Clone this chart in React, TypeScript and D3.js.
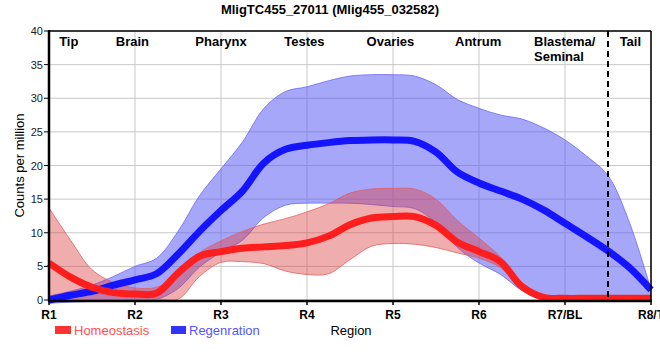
import React from "react";
import * as d3 from "d3";

const title = "MligTC455_27011 (Mlig455_032582)";
const regionTicks = ["R1", "R2", "R3", "R4", "R5", "R6", "R7/BL", "R8/T"];
const yTicks = [0, 5, 10, 15, 20, 25, 30, 35, 40];

// sample positions in region units (0 = R1 ... 7 = R8/T)
const xs = [0, 0.25, 0.5, 0.75, 1, 1.25, 1.5, 1.75, 2, 2.25, 2.5, 2.75, 3, 3.25, 3.5, 3.75, 4, 4.25, 4.5, 4.75, 5, 5.25, 5.5, 5.75, 6, 6.25, 6.5, 6.75, 7];

const homeoMean = [5.5, 3.4, 1.9, 1.1, 0.9, 1.0, 4.0, 6.5, 7.2, 7.7, 7.9, 8.1, 8.5, 9.5, 11.2, 12.2, 12.4, 12.4, 11.1, 8.6, 7.2, 5.7, 2.0, 0.4, 0.25, 0.25, 0.25, 0.25, 0.25];
const homeoUpper = [13.7, 8.9, 4.5, 2.6, 1.8, 1.9, 3.8, 7.0, 8.8, 10.2, 11.3, 12.1, 13.1, 14.3, 15.9, 16.5, 16.6, 16.5, 15.0, 11.8, 9.2, 6.4, 2.5, 0.5, 0.45, 0.45, 0.45, 0.45, 0.45];
const homeoLower = [0, 0, 0, 0, 0.1, 0.1, 0.1, 3.5, 5.6, 5.7, 5.4, 4.3, 3.8, 3.9, 6.0, 8.0, 8.4, 8.3, 7.8, 7.0, 6.2, 4.8, 1.5, 0.1, 0.05, 0.05, 0.05, 0.05, 0.05];

const regenMean = [0, 0.7, 1.3, 2.2, 3.0, 3.9, 6.8, 10.2, 13.3, 16.2, 20.4, 22.4, 23.0, 23.4, 23.7, 23.8, 23.8, 23.6, 22.0, 19.0, 17.4, 16.2, 15.0, 13.4, 11.4, 9.4, 7.3, 4.8, 1.5];
const regenUpper = [0.6, 1.3, 2.2, 3.5, 5.0, 6.2, 10.2, 15.5, 19.5, 23.5, 28.5, 31.0, 31.7, 32.6, 33.3, 33.5, 33.5, 33.3, 32.0, 29.8, 28.5, 27.5, 26.9, 25.6, 23.8, 21.4, 18.5, 11.5, 1.5];
const regenLower = [-0.5, -0.3, -0.2, 0, 0, 0.1, 1.7, 4.9, 7.1, 8.9, 12.3, 14.1, 14.4, 14.4, 14.4, 14.2, 13.9, 13.6, 11.5, 7.8, 5.5, 3.8, 1.4, 0, 0, 0, 0, 0, 0];

const tissueLabels = ["Tip", "Brain", "Pharynx", "Testes", "Ovaries", "Antrum", "Tail"];
const tissuePos = [0.23, 0.97, 2.0, 2.97, 3.97, 4.99, 6.76];
const blastemaLines = ["Blastema/", "Seminal"];
const blastemaPos = 5.64;
const dividerPos = 6.5; // between R7/BL and R8/T

const seriesNames = ["Homeostasis", "Regenration"];

const W = 660, H = 360;
const left = 49, right = 651, top = 31, bottom = 300;

export default function App() {
  const x = d3.scaleLinear().domain([0, 7]).range([left, right]);
  const y = d3.scaleLinear().domain([0, 40]).range([bottom, top]);
  const curve = d3.curveCatmullRom.alpha(0.5);

  const mk = (arr: number[]) => arr.map((v, i) => [xs[i], v] as [number, number]);
  const line = d3.line<[number, number]>().x(d => x(d[0])).y(d => y(d[1])).curve(curve);
  const band = (lo: number[], hi: number[]) =>
    d3.area<number>().x(i => x(xs[i])).y0(i => y(lo[i])).y1(i => y(hi[i])).curve(curve)(xs.map((_, i) => i)) || "";
  const edge = (arr: number[]) => line(mk(arr)) || "";

  const font = "'Liberation Sans', Arial, sans-serif";

  return (
    <svg width={W} height={H} style={{ position: "absolute", left: 0, top: 0, background: "#fff" }} fontFamily={font}>
      <text x={330} y={14} textAnchor="middle" fontWeight="bold" fontSize={13}>{title}</text>

      {/* grid */}
      {yTicks.map(t => (
        <line key={"gy" + t} x1={left} x2={right} y1={y(t)} y2={y(t)} stroke="#c8c8c8" strokeWidth={1} />
      ))}
      {regionTicks.map((_, i) => (
        <line key={"gx" + i} x1={x(i)} x2={x(i)} y1={top} y2={bottom} stroke="#c8c8c8" strokeWidth={1} />
      ))}

      {/* bands */}
      <path d={band(regenLower, regenUpper)} fill="#5050f5" fillOpacity={0.5} />
      <path d={edge(regenUpper)} fill="none" stroke="#6a6af5" strokeWidth={1} strokeOpacity={0.8} />
      <path d={edge(regenLower)} fill="none" stroke="#6a6af5" strokeWidth={1} strokeOpacity={0.8} />
      <path d={band(homeoLower, homeoUpper)} fill="#dc3c3c" fillOpacity={0.42} />
      <path d={edge(homeoUpper)} fill="none" stroke="#e06060" strokeWidth={1} strokeOpacity={0.8} />
      <path d={edge(homeoLower)} fill="none" stroke="#e06060" strokeWidth={1} strokeOpacity={0.8} />

      {/* mean lines */}
      <path d={line(mk(regenMean)) || ""} fill="none" stroke="#1414ff" strokeWidth={7} />
      <path d={line(mk(homeoMean)) || ""} fill="none" stroke="#ff1e1e" strokeWidth={7} />

      {/* divider */}
      <line x1={x(dividerPos)} x2={x(dividerPos)} y1={top} y2={bottom} stroke="#000" strokeWidth={2} strokeDasharray="6,4" />

      {/* frame */}
      <line x1={left} x2={right} y1={top} y2={top} stroke="#000" strokeWidth={1.5} />
      <line x1={right} x2={right} y1={top} y2={bottom} stroke="#000" strokeWidth={1.5} />
      <line x1={left} x2={left} y1={top - 1} y2={bottom + 1.5} stroke="#000" strokeWidth={2.5} />
      <line x1={left - 1} x2={right + 1} y1={bottom + 1} y2={bottom + 1} stroke="#000" strokeWidth={2.5} />

      {/* y ticks */}
      {yTicks.map(t => (
        <g key={"yt" + t}>
          <line x1={left - 5} x2={left} y1={y(t)} y2={y(t)} stroke="#000" strokeWidth={1} />
          <text x={left - 6} y={y(t) + 4} textAnchor="end" fontSize={11} fill="#222">{t}</text>
        </g>
      ))}
      <text transform={`translate(24,${(top + bottom) / 2}) rotate(-90)`} textAnchor="middle" fontSize={13}>Counts per million</text>

      {/* x ticks */}
      {regionTicks.map((r, i) => (
        <g key={"xt" + i}>
          <line x1={x(i)} x2={x(i)} y1={bottom} y2={bottom + 5} stroke="#000" strokeWidth={1.5} />
          <text x={x(i)} y={319} textAnchor="middle" fontSize={12} fontWeight="bold">{r}</text>
        </g>
      ))}

      {/* tissue labels */}
      {tissueLabels.map((t, i) => (
        <text key={t} x={x(tissuePos[i])} y={46} textAnchor="middle" fontSize={13} fontWeight="bold">{t}</text>
      ))}
      {blastemaLines.map((t, i) => (
        <text key={t} x={x(blastemaPos)} y={46 + i * 15} textAnchor="start" fontSize={13} fontWeight="bold">{t}</text>
      ))}

      {/* legend */}
      <rect x={55} y={326} width={16} height={8} fill="#ff3333" />
      <text x={74} y={335} fontSize={13} fill="#ff5050">{seriesNames[0]}</text>
      <rect x={171} y={326} width={15} height={8} fill="#3333ff" />
      <text x={189} y={335} fontSize={13} fill="#5555ff">{seriesNames[1]}</text>
      <text x={351} y={335} textAnchor="middle" fontSize={13}>Region</text>
    </svg>
  );
}
